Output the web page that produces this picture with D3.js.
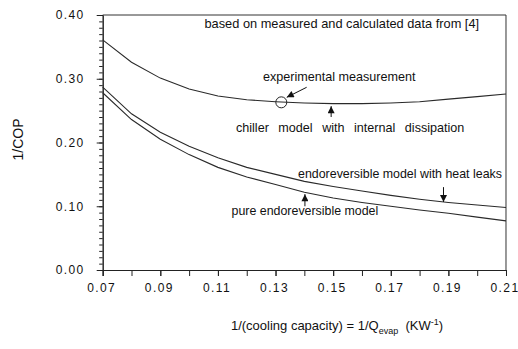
<!DOCTYPE html>
<html>
<head>
<meta charset="utf-8">
<script src="https://cdn.jsdelivr.net/npm/d3@7"></script>
<style>
  body { margin: 0; background: #fff; }
  text { font-family: "Liberation Sans", Arial, sans-serif; fill: #111; }
  .axis path, .axis line { stroke: #222; stroke-width: 1; }
  .tick-label text { font-size: 12px; letter-spacing: 1.4px; }
</style>
</head>
<body>
<div id="chart"></div>
<script>
// values (1/COP against 1/Q_evap)
var xValues       = [0.07, 0.08, 0.09, 0.10, 0.11, 0.12, 0.13, 0.14, 0.15, 0.16, 0.17, 0.18, 0.19, 0.20, 0.21];
var chillerModel  = [0.361, 0.326, 0.301, 0.284, 0.273, 0.267, 0.264, 0.262, 0.261, 0.261, 0.262, 0.264, 0.268, 0.272, 0.276];
var heatLeakModel = [0.287, 0.245, 0.216, 0.194, 0.176, 0.161, 0.150, 0.139, 0.131, 0.124, 0.117, 0.111, 0.106, 0.102, 0.098];
var pureModel     = [0.278, 0.236, 0.205, 0.181, 0.161, 0.146, 0.134, 0.122, 0.113, 0.106, 0.100, 0.094, 0.089, 0.083, 0.077];
var measurement   = [0.132, 0.263];

var xTickValues = [0.07, 0.09, 0.11, 0.13, 0.15, 0.17, 0.19, 0.21];
var xMinorTicks = xValues;
var yTickValues = [0.00, 0.10, 0.20, 0.30, 0.40];
var yMinorTicks = d3.range(0, 41).map(function(i) { return i / 100; });

var fullWidth = 518;
var fullHeight = 349;
var margin = {top: 15, right: 12, bottom: 79, left: 102.7};
var width = fullWidth - margin.left - margin.right;
var height = fullHeight - margin.top - margin.bottom;

var svg = d3.select("#chart")
            .append("svg")
            .attr("width", fullWidth)
            .attr("height", fullHeight);

var g = svg.append("g")
           .attr("transform", "translate(" + margin.left + "," + margin.top + ")");

var xScale = d3.scaleLinear().domain([0.07, 0.21]).range([0, width]);
var yScale = d3.scaleLinear().domain([0, 0.40]).range([height, 0]);

// frame (top and right)
g.append("line").attr("x1", 0).attr("x2", width).attr("y1", 0).attr("y2", 0)
    .attr("stroke", "#333").attr("stroke-width", 1);
g.append("line").attr("x1", width).attr("x2", width).attr("y1", 0).attr("y2", height)
    .attr("stroke", "#333").attr("stroke-width", 1);

// minor ticks
g.append("g")
    .attr("class", "axis")
    .call(d3.axisLeft(yScale).tickValues(yMinorTicks).tickSize(3.5).tickFormat(""));
g.append("g")
    .attr("class", "axis")
    .attr("transform", "translate(0," + height + ")")
    .call(d3.axisBottom(xScale).tickValues(xMinorTicks).tickSize(6).tickFormat(""));

// major ticks + labels
g.append("g")
    .attr("class", "axis tick-label")
    .call(d3.axisLeft(yScale).tickValues(yTickValues).tickSize(6).tickSizeOuter(0).tickPadding(12)
          .tickFormat(d3.format(".2f")));
g.append("g")
    .attr("class", "axis tick-label")
    .attr("transform", "translate(0," + height + ")")
    .call(d3.axisBottom(xScale).tickValues(xTickValues).tickSize(6).tickSizeOuter(0).tickPadding(7.5)
          .tickFormat(d3.format(".2f")))
    .selectAll("text")
    .attr("dx", "-1.5");

// curves
var line = d3.line()
    .x(function(d) { return xScale(d[0]); })
    .y(function(d) { return yScale(d[1]); });

[chillerModel, heatLeakModel, pureModel].forEach(function(series) {
    g.append("path")
        .datum(xValues.map(function(x, i) { return [x, series[i]]; }))
        .attr("fill", "none")
        .attr("stroke", "#2a2a2a")
        .attr("stroke-width", 1.1)
        .attr("d", line);
});

// measured point
g.append("circle")
    .attr("cx", xScale(measurement[0]))
    .attr("cy", yScale(measurement[1]))
    .attr("r", 5.5)
    .attr("fill", "none")
    .attr("stroke", "#222")
    .attr("stroke-width", 1);

// arrows
svg.append("defs").append("marker")
    .attr("id", "head")
    .attr("markerUnits", "userSpaceOnUse")
    .attr("viewBox", "0 0 10 10")
    .attr("refX", 10).attr("refY", 5)
    .attr("markerWidth", 10).attr("markerHeight", 7)
    .attr("orient", "auto")
    .append("path")
    .attr("d", "M0,0 L10,5 L0,10 z")
    .attr("fill", "#111");

var arrows = [
    [0.1408, 0.2866, 0.1339, 0.2709],
    [0.1493, 0.240, 0.1493, 0.257],
    [0.1883, 0.130, 0.1883, 0.1067],
    [0.1402, 0.100, 0.1402, 0.119]
];
arrows.forEach(function(a) {
    g.append("line")
        .attr("x1", xScale(a[0])).attr("y1", yScale(a[1]))
        .attr("x2", xScale(a[2])).attr("y2", yScale(a[3]))
        .attr("stroke", "#111").attr("stroke-width", 1)
        .attr("marker-end", "url(#head)");
});

// annotations
var notes = [
    [0.153, 0.380, "based on measured and calculated data from [4]", 12.8, 0],
    [0.1521, 0.2965, "experimental measurement", 12.6, 0],
    [0.1559, 0.216, "chiller model with internal dissipation", 12.6, 6],
    [0.1732, 0.1443, "endoreversible model with heat leaks", 12.4, 0],
    [0.1402, 0.0863, "pure endoreversible model", 12.4, 0]
];
notes.forEach(function(n) {
    g.append("text")
        .attr("x", xScale(n[0]))
        .attr("y", yScale(n[1]))
        .attr("text-anchor", "middle")
        .style("font-size", n[3] + "px")
        .style("word-spacing", n[4] + "px")
        .text(n[2]);
});

// axis titles
svg.append("text")
    .attr("transform", "translate(23,139.5) rotate(-90)")
    .attr("text-anchor", "middle")
    .style("font-size", "14px")
    .text("1/COP");

var xTitle = svg.append("text")
    .attr("x", 337)
    .attr("y", 330)
    .attr("text-anchor", "middle")
    .style("font-size", "13px");
xTitle.append("tspan").text("1/(cooling capacity) = 1/Q");
xTitle.append("tspan").attr("dy", 4).style("font-size", "9px").text("evap");
xTitle.append("tspan").attr("dy", -4).text("\u00a0 (KW");
xTitle.append("tspan").attr("dy", -5).style("font-size", "9px").text("-1");
xTitle.append("tspan").attr("dy", 5).text(")");
</script>
</body>
</html>
